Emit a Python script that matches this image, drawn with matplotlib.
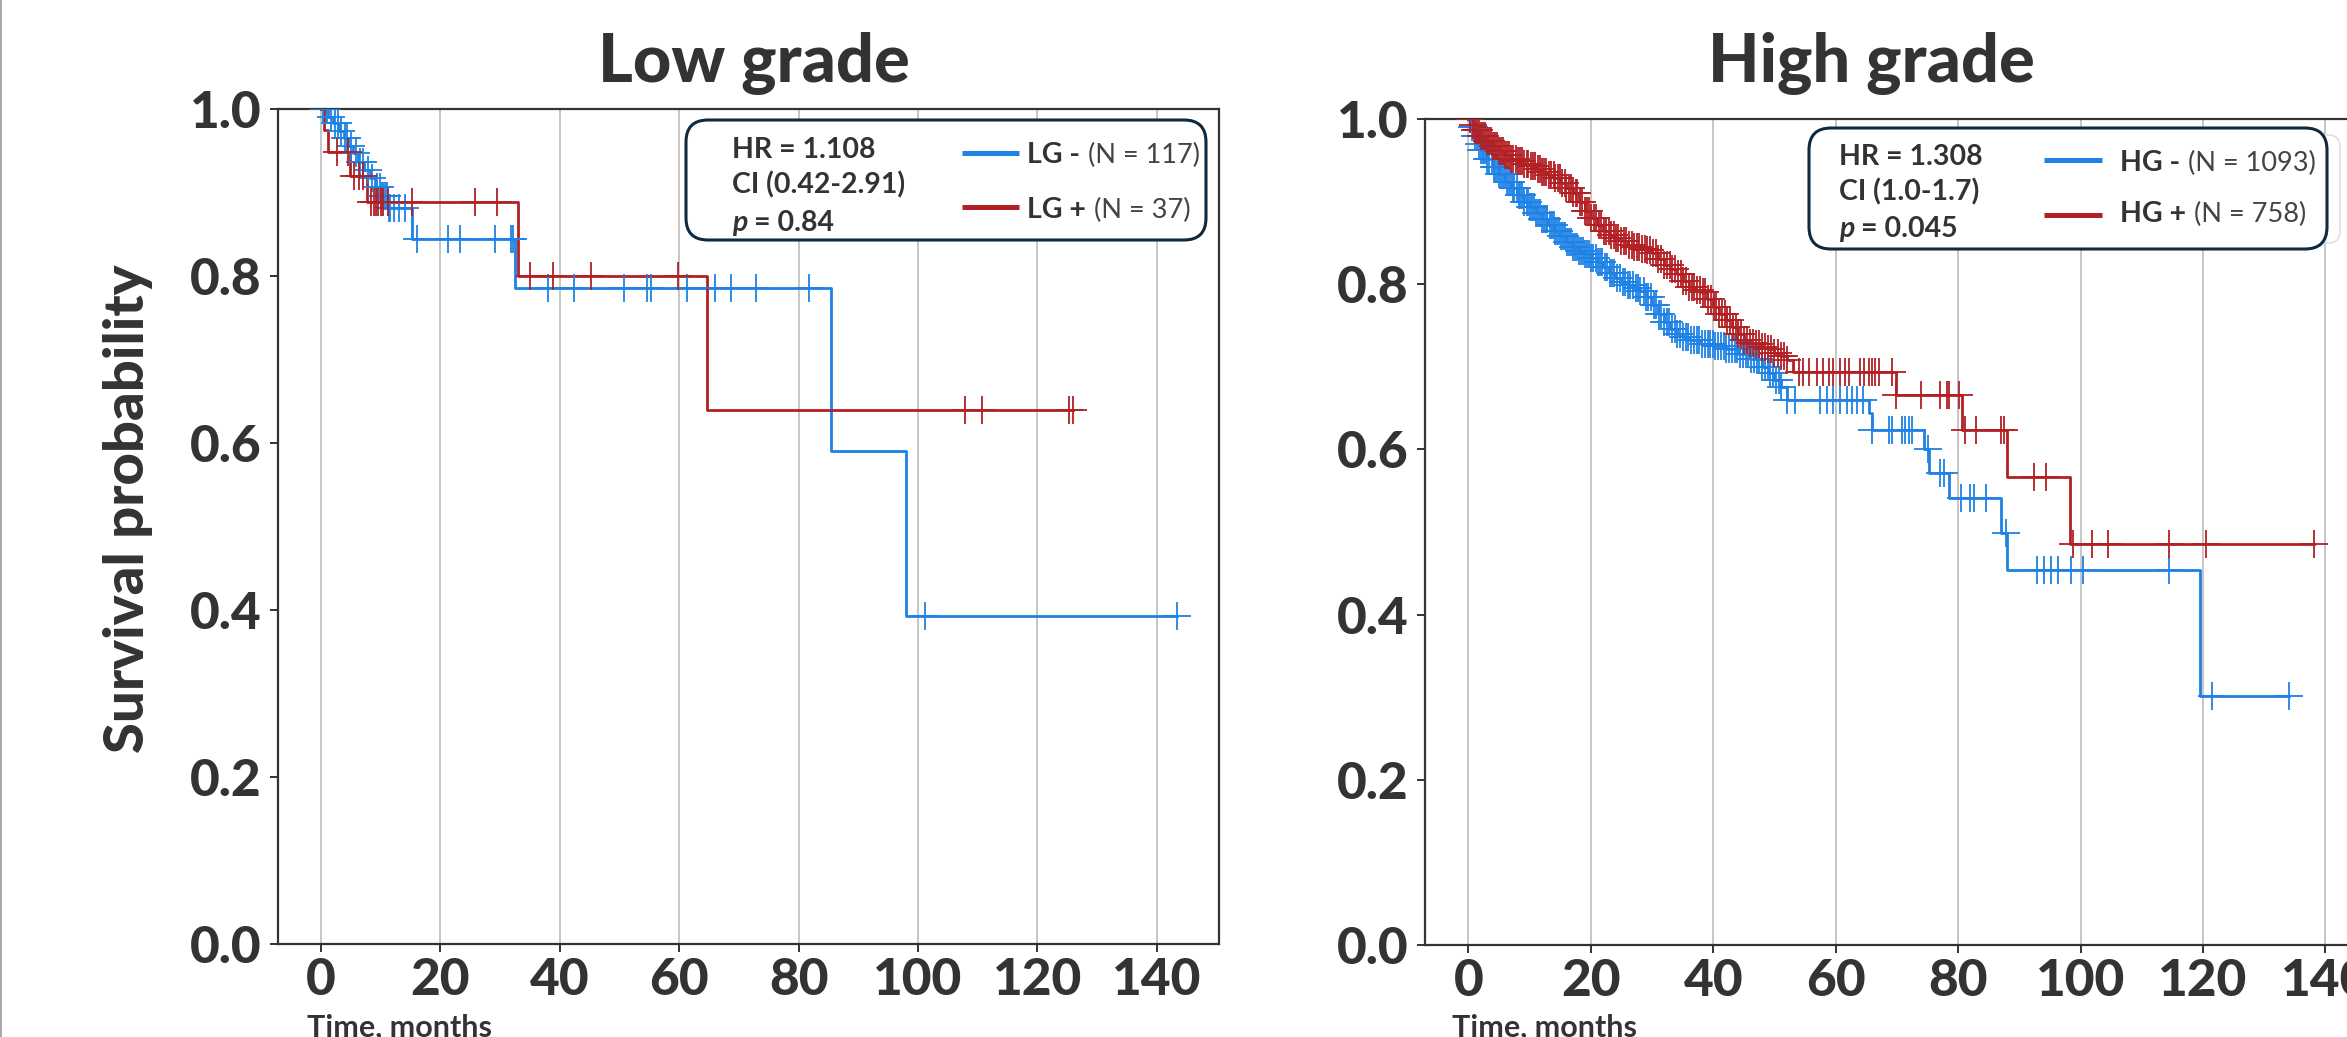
import numpy as np
import matplotlib
matplotlib.use("Agg")
import matplotlib.pyplot as plt
from matplotlib.patches import FancyBboxPatch
from matplotlib.lines import Line2D
from matplotlib.transforms import IdentityTransform

# ---------------- data ----------------
x_ticks = [0, 20, 40, 60, 80, 100, 120, 140]
x_tick_labels = ["0", "20", "40", "60", "80", "100", "120", "140"]
y_ticks = [0.0, 0.2, 0.4, 0.6, 0.8, 1.0]
y_tick_labels = ["0.0", "0.2", "0.4", "0.6", "0.8", "1.0"]

panel_titles = ["Low grade", "High grade"]
x_label = "Time, months"
y_label = "Survival probability"

# Low grade, LG - (blue)
lg_neg_t = [0, 1.2, 2.0, 3.0, 3.8, 4.6, 5.4, 6.2, 7.2, 8.2, 9.0, 10.0, 11.2, 15.2, 32.5, 85.4, 97.9]
lg_neg_s = [1.0, 0.991, 0.983, 0.974, 0.965, 0.956, 0.947, 0.937, 0.927, 0.917, 0.907, 0.896, 0.882,
            0.844, 0.786, 0.591, 0.393]
lg_neg_cens = [0.4, 1.0, 1.6, 2.4, 2.8, 3.4, 4.0, 4.4, 5.0, 5.8, 6.6, 7.0, 7.8, 8.6, 9.4, 9.8, 10.2,
               10.4, 10.8, 11.0, 11.4, 11.6, 12.2, 13.0, 14.0, 16.0, 21.3, 23.2, 29.2, 31.8, 32.2,
               38.0, 42.4, 50.8, 54.6, 55.2, 61.3, 66.0, 68.7, 72.8, 81.8, 101.1, 143.3]

# Low grade, LG + (red)
lg_pos_t = [0, 0.5, 1.1, 4.9, 7.7, 33.0, 64.6]
lg_pos_s = [1.0, 0.975, 0.949, 0.920, 0.889, 0.800, 0.640]
lg_pos_cens = [2.6, 4.5, 5.5, 6.3, 7.0, 8.3, 8.8, 9.2, 9.6, 10.0, 10.4, 11.3, 15.2, 25.8, 29.5,
               35.0, 38.8, 45.3, 59.8, 107.9, 110.7, 125.3, 126.0]

# High grade, HG - (blue)
hg_neg_t = [0, 0.5, 1.0, 1.5, 2.0, 3.0, 4.0, 5.0, 6.0, 7.0, 8.0, 9.0, 10.0, 11.0, 12.0, 13.0, 14.0,
            15.0, 16.0, 17.0, 18.0, 19.0, 20.0, 21.0, 22.0, 23.0, 24.0, 25.0, 26.0, 27.0, 28.0, 29.0,
            30.0, 31.0, 32.0, 33.0, 34.0, 35.0, 36.0, 38.0, 40.0, 42.0, 44.0, 46.0, 48.0, 49.0, 50.0,
            51.0, 52.0, 65.4, 65.9, 74.4, 75.2, 78.5, 87.0, 88.0, 119.6]
hg_neg_s = [1.0, 0.990, 0.980, 0.970, 0.962, 0.952, 0.942, 0.933, 0.924, 0.916, 0.908, 0.900, 0.893,
            0.886, 0.879, 0.872, 0.865, 0.858, 0.851, 0.845, 0.840, 0.836, 0.832, 0.827, 0.821, 0.814,
            0.808, 0.803, 0.799, 0.796, 0.792, 0.784, 0.775, 0.764, 0.754, 0.746, 0.740, 0.736, 0.732,
            0.728, 0.725, 0.721, 0.716, 0.709, 0.700, 0.692, 0.684, 0.675, 0.660, 0.644, 0.624, 0.600,
            0.571, 0.541, 0.499, 0.454, 0.301]
hg_neg_cens = [0.2, 0.6, 0.9, 1.1, 1.4, 1.7, 2.0, 2.3, 2.6, 2.9, 3.1, 3.4, 3.8, 4.1, 4.4, 4.7, 5.0,
               5.3, 5.6, 5.9, 6.3, 6.6, 6.9, 7.2, 7.5, 7.9, 8.2, 8.5, 8.8, 9.1, 9.5, 9.8, 10.1,
               10.4, 10.7, 11.0, 11.4, 11.7, 12.0, 12.3, 12.6, 12.9, 13.3, 13.6, 13.9, 14.2, 14.5,
               14.8, 15.2, 15.5, 15.8, 16.1, 16.5, 16.8, 17.1, 17.4, 17.7, 18.0, 18.4, 18.7, 19.0,
               19.3, 19.7, 20.0, 20.4, 20.8, 21.1, 21.5, 21.9, 22.3, 22.7, 23.1, 23.5, 23.8, 24.3,
               24.8, 25.2, 25.6, 26.0, 26.4, 26.9, 27.3, 27.7, 28.1, 28.6, 29.0, 29.4, 29.8, 30.3,
               30.7, 31.1, 31.5, 32.0, 32.4, 32.8, 33.2, 33.7, 34.1, 34.6, 35.0, 35.5, 35.9, 36.4,
               36.8, 37.3, 37.7, 38.2, 38.6, 39.1, 39.5, 39.9, 40.3, 40.8, 41.2, 41.7, 42.1, 42.6,
               43.0, 43.5, 43.9, 44.4, 44.8, 45.3, 45.7, 46.2, 46.6, 47.1, 47.5, 48.0, 48.4, 48.9,
               49.3, 49.8, 50.2, 50.7, 51.1, 52.0, 53.4, 57.5, 58.6, 59.6, 60.7, 61.8, 62.6, 63.4,
               64.5, 66.0, 68.7, 69.2, 70.9, 71.4, 71.9, 72.5, 75.0, 77.1, 77.7, 80.4, 82.0, 82.6,
               84.6, 87.9, 92.9, 94.1, 95.2, 96.3, 98.5, 100.4, 114.5, 121.5, 134.0]

# High grade, HG + (red)
hg_pos_t = [0, 0.5, 1.0, 2.0, 3.0, 4.0, 5.0, 6.0, 7.0, 8.0, 9.0, 10.0, 11.0, 12.0, 13.0, 14.0, 15.0,
            16.0, 17.0, 18.0, 19.0, 20.0, 21.0, 22.0, 23.0, 24.0, 25.0, 26.0, 27.0, 28.0, 29.0, 30.0,
            31.0, 32.0, 33.0, 34.0, 35.0, 36.0, 37.0, 38.0, 39.0, 40.0, 41.0, 42.0, 43.0, 44.0, 45.0,
            46.0, 47.0, 48.0, 49.0, 50.0, 51.0, 52.0, 53.0, 69.8, 80.7, 88.0, 98.3]
hg_pos_s = [1.0, 0.993, 0.987, 0.980, 0.973, 0.967, 0.961, 0.956, 0.952, 0.949, 0.946, 0.943, 0.940,
            0.936, 0.932, 0.928, 0.922, 0.917, 0.910, 0.900, 0.889, 0.880, 0.872, 0.865, 0.860, 0.856,
            0.852, 0.848, 0.845, 0.843, 0.841, 0.838, 0.830, 0.823, 0.818, 0.812, 0.804, 0.797, 0.793,
            0.790, 0.782, 0.772, 0.764, 0.757, 0.748, 0.740, 0.733, 0.729, 0.727, 0.724, 0.721, 0.717,
            0.713, 0.708, 0.694, 0.666, 0.623, 0.566, 0.485]
hg_pos_cens = [0.3, 0.8, 1.1, 1.4, 1.8, 2.1, 2.4, 2.7, 3.0, 3.3, 3.7, 4.0, 4.3, 4.6, 5.0, 5.3, 5.6,
               6.0, 6.3, 6.7, 7.0, 7.3, 7.7, 8.1, 8.4, 8.8, 9.1, 9.5, 9.8, 10.2, 10.5, 10.9, 11.3,
               11.7, 12.0, 12.4, 12.7, 13.1, 13.5, 13.9, 14.2, 14.6, 14.9, 15.3, 15.7, 16.0, 16.4,
               16.8, 17.1, 17.5, 17.8, 18.2, 18.6, 19.0, 19.3, 19.7, 20.1, 20.5, 20.9, 21.3, 21.7,
               22.1, 22.5, 22.9, 23.3, 23.7, 24.1, 24.5, 25.0, 25.4, 25.8, 26.2, 26.7, 27.1, 27.5,
               27.9, 28.4, 28.8, 29.2, 29.7, 30.1, 30.6, 31.0, 31.5, 32.0, 32.4, 32.9, 33.3, 33.8,
               34.2, 34.7, 35.1, 35.6, 36.0, 36.5, 36.9, 37.4, 37.8, 38.3, 38.7, 39.2, 39.6, 40.1,
               40.5, 41.0, 41.4, 41.9, 42.3, 42.8, 43.2, 43.7, 44.1, 44.6, 45.0, 45.5, 46.0, 46.5,
               47.0, 47.5, 48.0, 48.5, 49.0, 49.5, 50.0, 50.5, 51.0, 51.5, 52.0, 54.0, 54.7, 55.6,
               57.0, 58.0, 58.9, 59.6, 60.7, 61.5, 62.1, 64.0, 64.6, 65.4, 66.0, 66.5, 67.1, 69.2,
               69.9, 73.9, 77.1, 78.2, 78.5, 80.1, 81.2, 82.9, 87.0, 87.5, 92.4, 94.3, 98.7, 101.8,
               104.5, 114.5, 120.5, 138.2]

lg_stats = ["HR = 1.108", "CI (0.42-2.91)", "= 0.84"]
hg_stats = ["HR = 1.308", "CI (1.0-1.7)", "= 0.045"]
lg_groups = [("LG -", "(N = 117)"), ("LG +", "(N = 37)")]
hg_groups = [("HG -", "(N = 1093)"), ("HG +", "(N = 758)")]

# ---------------- style ----------------
W, H, DPI = 2347, 1037, 100
plt.rcParams["font.family"] = ["Lato", "DejaVu Sans"]
TXT = "#333333"
BLUE = "#1E82E5"
RED = "#B22024"
NAVY = "#0E2A40"
HEAVY = 900

fig = plt.figure(figsize=(W / DPI, H / DPI), dpi=DPI)
fig.patch.set_facecolor("white")


def fx(x):
    return x / W


def fy(y):
    return 1 - y / H


axL = fig.add_axes([fx(278), fy(944), (1219 - 278) / W, (944 - 109) / H])
axR = fig.add_axes([fx(1425), fy(945), (2389 - 1425) / W, (945 - 119) / H])


def style(ax, xlim):
    ax.set_xlim(*xlim)
    ax.set_ylim(0, 1)
    ax.set_xticks(x_ticks)
    ax.set_xticklabels(x_tick_labels)
    ax.set_yticks(y_ticks)
    ax.set_yticklabels(y_tick_labels)
    ax.grid(axis="x", color="#c6c6c6", lw=1.4)
    ax.grid(axis="y", visible=False)
    ax.set_axisbelow(True)
    for sp in ax.spines.values():
        sp.set_color("#333333")
        sp.set_linewidth(1.6)
    ax.tick_params(axis="both", direction="out", length=5.8, width=1.4, color="#333333",
                   labelcolor=TXT, labelsize=37)
    ax.tick_params(axis="y", pad=5.8)
    ax.tick_params(axis="x", pad=3.6)
    for lab in ax.get_xticklabels() + ax.get_yticklabels():
        lab.set_fontweight(HEAVY)


def km(ax, t, s, cens, color):
    t = np.asarray(t, float)
    s = np.asarray(s, float)
    c = np.asarray(cens, float)
    tx = np.append(t, c.max())
    sy = np.append(s, s[-1])
    ax.step(tx, sy, where="post", color=color, lw=2.0, zorder=3)
    idx = np.searchsorted(t, c, side="right") - 1
    ax.plot(c, s[idx], ls="none", marker="+", ms=20, mew=1.3, color=color, zorder=4)


style(axL, (-7.2, 150.4))
style(axR, (-7.1, 150.4))
km(axL, lg_neg_t, lg_neg_s, lg_neg_cens, BLUE)
km(axL, lg_pos_t, lg_pos_s, lg_pos_cens, RED)
km(axR, hg_neg_t, hg_neg_s, hg_neg_cens, BLUE)
km(axR, hg_pos_t, hg_pos_s, hg_pos_cens, RED)

# titles, labels
fig.text(fx(753.6), fy(82), panel_titles[0], ha="center", va="baseline", fontsize=48,
         fontweight=HEAVY, color=TXT)
fig.text(fx(1871), fy(82), panel_titles[1], ha="center", va="baseline", fontsize=48,
         fontweight=HEAVY, color=TXT)
fig.text(fx(128), fy(509), y_label, rotation=90, ha="center", va="center", fontsize=40.5,
         fontweight=HEAVY, color=TXT)
fig.text(fx(306.7), fy(1037), x_label, ha="left", va="baseline", fontsize=22,
         fontweight="bold", color=TXT)
fig.text(fx(1452), fy(1037), x_label, ha="left", va="baseline", fontsize=22,
         fontweight="bold", color=TXT)

# left border line of the composite
fig.add_artist(Line2D([1, 1], [0, H], transform=IdentityTransform(), color="#9a9a9a", lw=1.2))


def rbox(x0, y0, x1, y1, ec, lw, r, z):
    p = FancyBboxPatch((x0, H - y1), x1 - x0, y1 - y0,
                       boxstyle=f"round,pad=0,rounding_size={r}",
                       transform=IdentityTransform(), fc="white", ec=ec, lw=lw, zorder=z)
    fig.add_artist(p)


def hline(x0, x1, y, color):
    fig.add_artist(Line2D([x0, x1], [H - y, H - y], transform=IdentityTransform(),
                          color=color, lw=3.6, solid_capstyle="butt", zorder=2))


renderer = fig.canvas.get_renderer()


def rich(x, y, parts):
    cx = x
    for s, kw, gap in parts:
        t = fig.text(fx(cx), fy(y), s, ha="left", va="baseline", zorder=3, **kw)
        bb = t.get_window_extent(renderer)
        cx = bb.x1 + gap


BOLD = dict(fontweight="bold", color=TXT, fontsize=20.5)
REG = dict(fontweight="normal", color="#444444", fontsize=19.5)
ITB = dict(fontweight="bold", fontstyle="italic", color=TXT, fontsize=20.5)


def legend(box, stat_x, stat_ys, stats, line_x, line_ys, grp_x, grp_ys, groups):
    rbox(*box, NAVY, 2.2, 22, 1.5)
    rich(stat_x, stat_ys[0], [(stats[0], BOLD, 0)])
    rich(stat_x, stat_ys[1], [(stats[1], BOLD, 0)])
    rich(stat_x, stat_ys[2], [("p", ITB, 7), (stats[2], BOLD, 0)])
    for ly, col in zip(line_ys, [BLUE, RED]):
        hline(line_x[0], line_x[1], ly, col)
    for gy, (g, n) in zip(grp_ys, groups):
        rich(grp_x, gy, [(g, BOLD, 8), (n, REG, 0)])


# faint box behind right legend
rbox(2150, 135, 2340, 243, "#e0e0e0", 1.2, 12, 1.2)

legend((686, 120, 1206, 240), 731.7, [158, 193, 231], lg_stats,
       (961.7, 1019), [152.7, 207.3], 1027, [163, 218], lg_groups)
legend((1809, 128, 2327, 249), 1838.7, [165, 200, 237], hg_stats,
       (2044, 2102), [160.3, 215], 2120, [171, 222], hg_groups)

fig.savefig("out.png", dpi=DPI)
